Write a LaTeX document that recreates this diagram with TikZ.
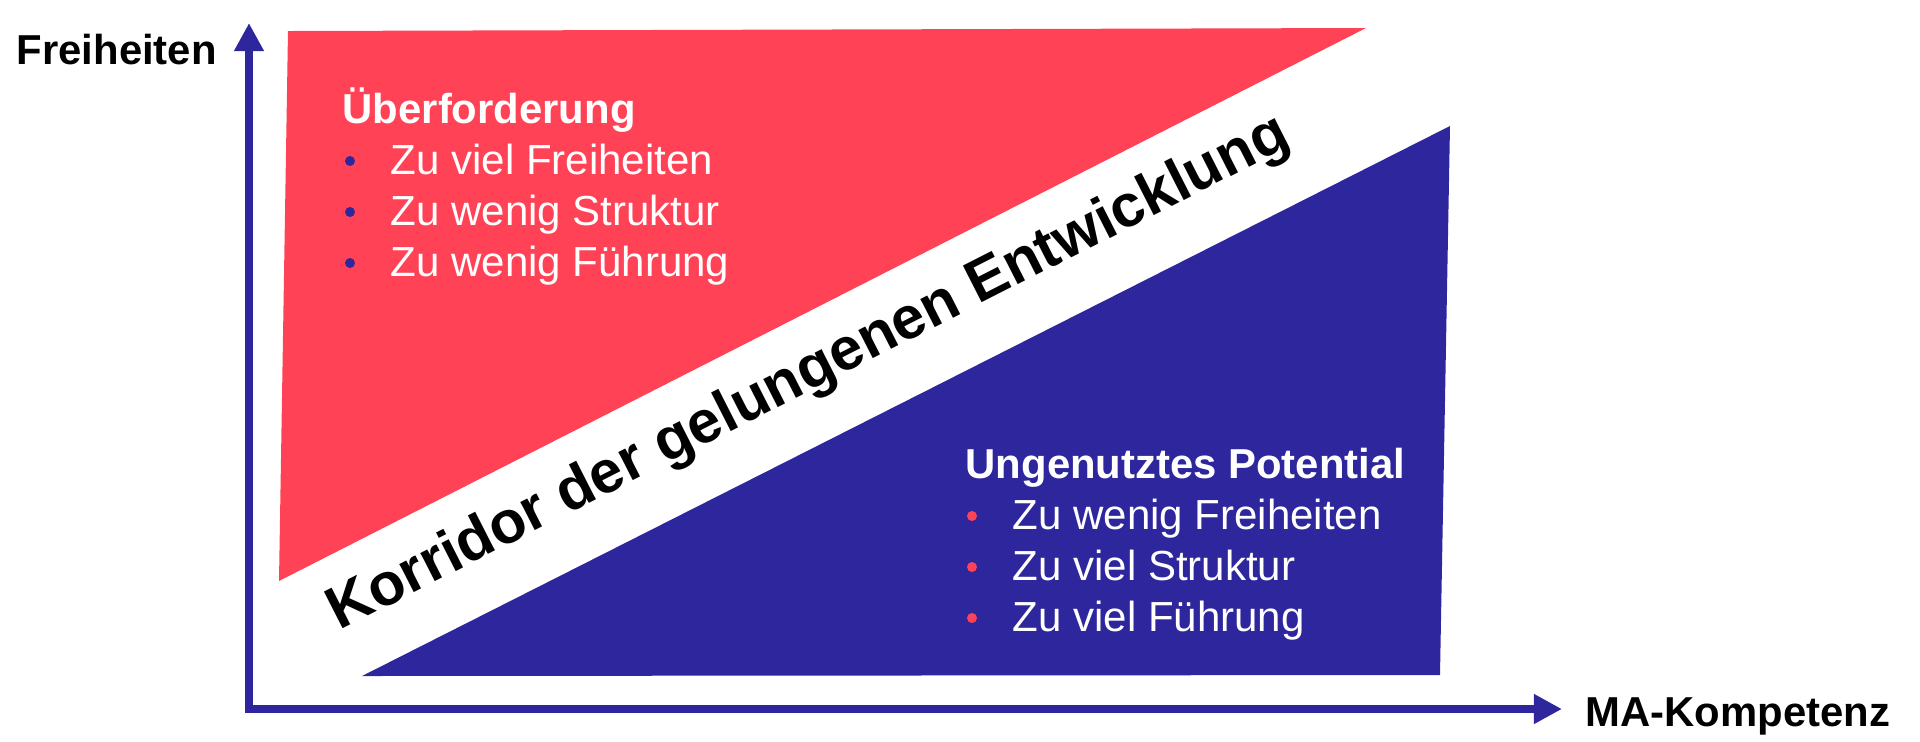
\documentclass[tikz,border=0pt]{standalone}
\usepackage{fontspec}
\setmainfont{Liberation Sans}
\usepackage{tikz}
\usetikzlibrary{arrows.meta}
\definecolor{warnred}{RGB}{255,66,85}
\definecolor{deepblue}{RGB}{46,38,157}
\tikzset{%
    axis/.style={%
        line width=0.08cm, color=deepblue,
        {Triangle[length=0.28cm,width=0.28cm]}-{Triangle[length=0.28cm,width=0.28cm]}
    },
    axistext/.style={anchor=base west, inner sep=0pt, font=\bfseries\fontsize{11.9}{14}\selectfont},
    listhead/.style={anchor=base west, inner sep=0pt, text=white, font=\bfseries\fontsize{11.9}{14}\selectfont},
    listitem/.style={anchor=base west, inner sep=0pt, text=white, font=\fontsize{11.95}{14}\selectfont},
    bulletdot/.style={circle, draw=none, inner sep=0pt, minimum size=0.1cm},
    corridortext/.style={anchor=base west, inner sep=0pt, font=\bfseries\fontsize{17}{20}\selectfont}
}
\begin{document}
\begin{tikzpicture}[x=0.01cm,y=-0.01cm]
\useasboundingbox (0,0) rectangle (1920,741);
%-----------------------------------------------
    \fill[warnred] (288,31)--(1366,28)--(279,581)--cycle;
    \fill[deepblue] (362,676)--(1450,126)--(1440,675)--cycle;
%-----------------------------------------------
    \coordinate (origin) at (249,709);
    \coordinate (ytip) at (249,23);
    \coordinate (xtip) at (1562,709);
    \draw[axis] (ytip)--(origin)--(xtip);
%-----------------------------------------------
    \node[axistext] (yname) at (16,64) {Freiheiten};
    \node[axistext] (xname) at (1585,726) {MA-Kompetenz};
%-----------------------------------------------
    \node[listhead] (redhead) at (342,123) {Überforderung};
    \foreach \txt [count=\i] in {Zu viel Freiheiten,Zu wenig Struktur,Zu wenig Führung}{
        \node[listitem] (reditem\i) at (390,123+51*\i) {\txt};
        \node[bulletdot,fill=deepblue] (reddot\i) at (350,110+51*\i) {};
    }
%-----------------------------------------------
    \node[listhead] (bluehead) at (965,478) {Ungenutztes Potential};
    \foreach \txt [count=\i] in {Zu wenig Freiheiten,Zu viel Struktur,Zu viel Führung}{
        \node[listitem] (blueitem\i) at (1012,478+51*\i) {\txt};
        \node[bulletdot,fill=warnred] (bluedot\i) at (972,465+51*\i) {};
    }
%-----------------------------------------------
    \node[corridortext,rotate=27] (korridor) at (339,631) {Korridor der gelungenen Entwicklung};
\end{tikzpicture}
\end{document}
